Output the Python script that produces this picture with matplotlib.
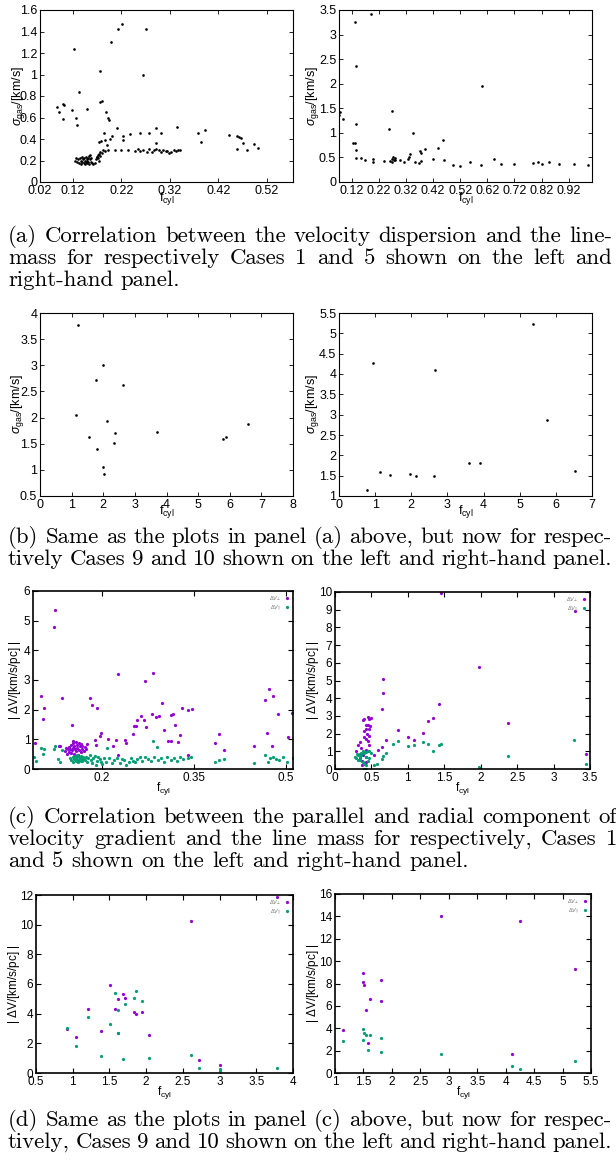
import matplotlib.pyplot as plt
from matplotlib.ticker import FormatStrFormatter

W, H = 616, 1161

# ---- Case 1 / Case 5: velocity dispersion vs line mass ----
c1_f = [0.122, 0.132, 0.087, 0.091, 0.099, 0.100, 0.102, 0.119, 0.127, 0.129,
        0.148, 0.175, 0.175, 0.179, 0.189, 0.193, 0.194, 0.198, 0.213, 0.221,
        0.270, 0.265, 0.185, 0.210, 0.200, 0.196, 0.173, 0.177, 0.187, 0.190,
        0.223, 0.223, 0.237, 0.258, 0.277, 0.291, 0.301, 0.292, 0.334, 0.379,
        0.384, 0.392, 0.441, 0.459, 0.463, 0.467, 0.470, 0.458, 0.479, 0.494,
        0.501,
        0.206, 0.220, 0.234, 0.248, 0.254, 0.265, 0.272, 0.287, 0.292, 0.306,
        0.311, 0.319, 0.323, 0.337, 0.341, 0.259, 0.276, 0.283, 0.297, 0.302,
        0.315, 0.328, 0.333,
        0.170, 0.174, 0.175, 0.182, 0.186, 0.192, 0.176, 0.180,
        0.124, 0.127, 0.129, 0.131, 0.133, 0.134, 0.136, 0.137, 0.138, 0.139,
        0.141, 0.142, 0.143, 0.144, 0.145, 0.146, 0.147, 0.148, 0.149, 0.150,
        0.151, 0.152, 0.153, 0.154, 0.155, 0.156, 0.157, 0.158, 0.160, 0.162,
        0.165, 0.168, 0.170, 0.172, 0.171, 0.173]
c1_sig = [1.24, 0.84, 0.70, 0.65, 0.59, 0.73, 0.72, 0.67, 0.60, 0.53,
          0.68, 1.03, 0.74, 0.75, 0.65, 0.60, 0.58, 1.30, 1.42, 1.47,
          1.42, 1.00, 0.46, 0.50, 0.43, 0.40, 0.37, 0.38, 0.39, 0.34,
          0.43, 0.39, 0.45, 0.46, 0.46, 0.50, 0.46, 0.36, 0.51, 0.46,
          0.37, 0.48, 0.44, 0.43, 0.42, 0.41, 0.36, 0.31, 0.30, 0.35,
          0.32,
          0.30, 0.30, 0.30, 0.29, 0.31, 0.30, 0.28, 0.30, 0.31, 0.30,
          0.29, 0.27, 0.28, 0.30, 0.30, 0.29, 0.31, 0.28, 0.30, 0.28,
          0.29, 0.30, 0.29,
          0.23, 0.26, 0.28, 0.30, 0.29, 0.30, 0.24, 0.27,
          0.20, 0.22, 0.19, 0.21, 0.18, 0.22, 0.20, 0.17, 0.23, 0.19,
          0.21, 0.18, 0.22, 0.20, 0.17, 0.19, 0.23, 0.21, 0.18, 0.20,
          0.22, 0.19, 0.24, 0.17, 0.21, 0.25, 0.19, 0.22, 0.18, 0.17,
          0.18, 0.21, 0.23, 0.25, 0.22, 0.20]

c5_f = [0.077, 0.074, 0.089, 0.132, 0.191, 0.134, 0.136, 0.126, 0.132, 0.134,
        0.136, 0.155, 0.170, 0.200, 0.200, 0.240, 0.258, 0.268, 0.260, 0.270,
        0.273, 0.276, 0.279, 0.281, 0.268, 0.297, 0.313, 0.328, 0.331, 0.346,
        0.336, 0.352, 0.368, 0.374, 0.371, 0.376, 0.390, 0.418, 0.437, 0.455,
        0.461, 0.492, 0.519, 0.556, 0.602, 0.597, 0.643, 0.670, 0.719, 0.787,
        0.806, 0.822, 0.846, 0.883, 0.941, 0.990]
c5_sig = [1.43, 1.36, 1.28, 3.25, 3.41, 2.36, 1.19, 0.80, 0.80, 0.65,
          0.48, 0.48, 0.44, 0.46, 0.41, 0.42, 1.07, 1.44, 0.43, 0.47,
          0.50, 0.44, 0.45, 0.49, 0.41, 0.44, 0.41, 0.46, 0.51, 0.99,
          0.56, 0.41, 0.39, 0.42, 0.63, 0.59, 0.67, 0.46, 0.69, 0.85,
          0.44, 0.35, 0.33, 0.41, 1.95, 0.34, 0.46, 0.36, 0.37, 0.39,
          0.41, 0.37, 0.41, 0.36, 0.37, 0.34]

# ---- Case 9 / Case 10 ----
c9_f = [1.19, 1.15, 1.54, 1.77, 1.81, 2.00, 1.99, 2.03, 2.13, 2.37, 2.35, 2.63,
        3.69, 5.79, 5.89, 6.58]
c9_sig = [3.78, 2.05, 1.62, 2.72, 1.39, 3.00, 1.06, 0.93, 1.94, 1.70, 1.52, 2.63,
          1.72, 1.59, 1.62, 1.88]

c10_f = [0.78, 0.95, 1.14, 1.40, 1.96, 2.14, 2.62, 2.65, 3.61, 3.89, 5.36, 5.76, 6.53]
c10_sig = [1.15, 4.27, 1.59, 1.52, 1.54, 1.50, 1.48, 4.11, 1.82, 1.82, 5.22, 2.87, 1.62]

# ---- velocity gradients, Case 1 ----
c1_perp_f = [0.090, 0.124, 0.121, 0.101, 0.106, 0.104, 0.130, 0.132, 0.134, 0.151,
             0.180, 0.183, 0.192, 0.196, 0.198, 0.190, 0.189, 0.210, 0.218, 0.223,
             0.227, 0.226, 0.237, 0.240, 0.251, 0.253, 0.256, 0.257, 0.264, 0.268,
             0.270, 0.272, 0.283, 0.282, 0.288, 0.293, 0.298, 0.302, 0.308, 0.312,
             0.312, 0.316, 0.320, 0.327, 0.325, 0.331, 0.340, 0.347, 0.340, 0.385,
             0.391, 0.400, 0.449, 0.467, 0.473, 0.480, 0.469, 0.478, 0.488, 0.504,
             0.511,
             0.140, 0.142, 0.144, 0.146, 0.147, 0.148, 0.149, 0.150, 0.151, 0.152,
             0.153, 0.154, 0.155, 0.156, 0.157, 0.158, 0.159, 0.160, 0.161, 0.162,
             0.163, 0.164, 0.165, 0.166, 0.167, 0.168, 0.170, 0.172, 0.174, 0.176,
             0.143, 0.158, 0.152]
c1_perp = [0.87, 5.36, 4.78, 2.45, 2.04, 1.67, 0.78, 0.79, 2.39, 1.49,
           2.39, 2.16, 2.04, 1.11, 1.20, 0.82, 0.99, 1.01, 0.76, 0.99,
           3.20, 0.47, 0.99, 0.87, 1.17, 1.46, 1.46, 1.66, 1.78, 1.66,
           2.97, 1.43, 3.23, 1.86, 1.75, 1.78, 2.23, 1.31, 0.93, 0.96,
           1.83, 1.84, 1.48, 1.13, 0.90, 2.04, 2.00, 2.03, 0.47, 0.87,
           1.17, 0.63, 0.78, 2.33, 2.68, 2.47, 1.20, 0.79, 1.86, 1.08,
           1.90,
           0.62, 0.70, 0.66, 0.58, 0.74, 0.68, 0.55, 0.80, 0.63, 0.72,
           0.86, 0.52, 0.77, 0.66, 0.90, 0.60, 0.82, 0.71, 0.48, 0.87,
           0.64, 0.76, 0.84, 0.57, 0.69, 0.79, 0.62, 0.74, 0.68, 0.83,
           0.50, 0.45, 0.93]

c1_par_f = [0.089, 0.092, 0.101, 0.106, 0.104, 0.121, 0.124, 0.128, 0.131, 0.134,
            0.148, 0.150, 0.152, 0.153, 0.155, 0.156, 0.157, 0.158, 0.159, 0.160,
            0.161, 0.162, 0.163, 0.164, 0.165, 0.166, 0.167, 0.168, 0.169, 0.170,
            0.172, 0.174, 0.176, 0.178, 0.180, 0.182, 0.184, 0.186, 0.188, 0.190,
            0.192, 0.194, 0.196, 0.198, 0.200, 0.203, 0.206, 0.208, 0.212, 0.216,
            0.220, 0.224, 0.229, 0.233, 0.236, 0.240, 0.244, 0.247, 0.250, 0.254,
            0.258, 0.262, 0.266, 0.270, 0.275, 0.280, 0.283, 0.285, 0.290, 0.292,
            0.297, 0.302, 0.307, 0.312, 0.317, 0.322, 0.328, 0.333, 0.340, 0.346,
            0.385, 0.391, 0.400, 0.449, 0.467, 0.471, 0.474, 0.479, 0.484, 0.489,
            0.495, 0.503, 0.512]
c1_par = [0.41, 0.27, 0.72, 0.66, 0.49, 0.66, 0.76, 0.35, 0.23, 0.64,
          0.38, 0.30, 0.42, 0.25, 0.35, 0.45, 0.28, 0.38, 0.32, 0.48,
          0.22, 0.40, 0.30, 0.36, 0.26, 0.44, 0.33, 0.28, 0.40, 0.35,
          0.30, 0.42, 0.25, 0.38, 0.48, 0.30, 0.20, 0.37, 0.43, 0.15,
          0.28, 0.40, 0.35, 0.25, 0.16, 0.38, 0.22, 0.72, 0.37, 0.20,
          0.30, 0.38, 0.21, 0.35, 0.30, 0.12, 0.25, 0.38, 0.28, 0.22,
          0.33, 0.40, 0.28, 0.40, 0.35, 0.28, 0.96, 0.42, 0.73, 0.30,
          0.38, 0.25, 0.42, 0.30, 0.38, 0.28, 0.42, 0.33, 0.38, 0.40,
          0.23, 0.30, 0.35, 0.20, 0.47, 0.22, 0.38, 0.40, 0.35, 0.32,
          0.40, 0.25, 0.38]

# ---- velocity gradients, Case 5 ----
c5_perp_f = [1.45, 3.29, 1.97, 0.66, 0.66, 0.64, 1.43, 1.35, 1.28, 1.21, 0.86, 0.70,
             1.00, 1.08, 2.38, 3.45, 0.59, 0.65, 0.54,
             0.38, 0.40, 0.45, 0.47, 0.50, 0.42, 0.45, 0.48, 0.43, 0.47, 0.40, 0.42,
             0.45, 0.34, 0.31, 0.29, 0.34, 0.38, 0.42, 0.37, 0.40, 0.43, 0.46, 0.47,
             0.36, 0.34, 0.44, 0.40, 0.43, 0.37]
c5_perp = [9.94, 8.90, 5.78, 5.06, 4.32, 3.37, 3.70, 2.87, 2.71, 2.02, 2.19, 1.63,
           1.82, 1.63, 2.58, 0.83, 1.09, 1.22, 0.79,
           2.79, 2.83, 2.93, 2.83, 2.89, 2.50, 2.50, 2.44, 2.25, 2.25, 1.80, 1.67,
           1.57, 1.53, 1.34, 0.99, 0.83, 0.79, 0.70, 0.21, 0.02, 1.09, 1.38, 1.86,
           1.18, 0.60, 1.96, 2.15, 0.41, 0.45]
c5_par_f = [3.28, 2.38, 1.97, 3.45, 1.43, 1.45, 1.35, 1.28, 1.21, 1.08, 1.00, 0.86,
            0.80, 0.70, 0.66, 0.64, 0.58, 0.54,
            0.29, 0.31, 0.34, 0.36, 0.38, 0.40, 0.43, 0.45, 0.47, 0.50, 0.34, 0.38,
            0.40, 0.43, 0.45, 0.42, 0.40, 0.36, 0.31, 0.43, 0.47, 0.27, 0.30]
c5_par = [1.63, 0.72, 0.10, 0.31, 1.38, 1.41, 1.03, 1.41, 1.53, 1.38, 1.28, 1.59,
          1.43, 0.93, 0.76, 0.54, 0.31, 0.25,
          0.60, 0.79, 0.70, 0.79, 0.99, 0.89, 0.95, 1.03, 0.99, 0.89, 0.50, 0.41,
          0.31, 0.21, 0.45, 0.02, 0.00, 0.89, 0.50, 0.70, 0.60, 0.70, 0.83]

# ---- velocity gradients, Case 9 ----
c9_perp_f = [0.92, 1.05, 1.21, 1.39, 1.51, 1.58, 1.61, 1.69, 1.71, 1.61, 1.84, 1.86,
             1.94, 2.04, 2.61, 2.72, 3.00, 3.78]
c9_perp = [2.95, 2.44, 4.34, 2.83, 5.96, 4.34, 4.97, 5.34, 5.08, 2.71, 4.11, 3.99,
           4.11, 2.55, 10.23, 0.90, 0.56, 11.88]
c9_par_f = [0.92, 1.05, 1.21, 1.39, 1.51, 1.58, 1.61, 1.61, 1.69, 1.71, 1.84, 1.86,
            1.94, 2.04, 2.61, 2.72, 3.00, 3.00, 3.78]
c9_par = [3.06, 1.79, 3.76, 1.16, 3.29, 5.38, 4.27, 2.71, 0.97, 4.64, 5.03, 5.50,
          4.85, 1.02, 1.21, 0.32, 0.28, 0.16, 0.32]

# ---- velocity gradients, Case 10 ----
c10_perp_f = [1.14, 1.49, 1.50, 1.51, 1.54, 1.58, 1.62, 1.81, 1.81, 2.87, 4.11, 4.26, 5.22]
c10_perp = [3.86, 8.95, 8.09, 7.87, 5.62, 2.69, 6.57, 8.33, 6.45, 14.07, 1.73, 13.55, 9.26]
c10_par_f = [1.14, 1.49, 1.50, 1.51, 1.54, 1.58, 1.62, 1.81, 1.81, 2.87, 4.11, 4.26, 5.22]
c10_par = [2.90, 2.93, 3.92, 3.55, 3.40, 2.07, 3.40, 3.15, 1.91, 1.73, 0.62, 0.37, 1.05]

captions = {
    'a': ["(a) Correlation between the velocity dispersion and the line-",
          "mass for respectively Cases 1 and 5 shown on the left and",
          "right-hand panel."],
    'b': ["(b) Same as the plots in panel (a) above, but now for respec-",
          "tively Cases 9 and 10 shown on the left and right-hand panel."],
    'c': ["(c) Correlation between the parallel and radial component of",
          "velocity gradient and the line mass for respectively, Cases 1",
          "and 5 shown on the left and right-hand panel."],
    'd': ["(d) Same as the plots in panel (c) above, but now for respec-",
          "tively, Cases 9 and 10 shown on the left and right-hand panel."],
}

PURPLE = '#9400d3'
GREEN = '#009e73'

plt.rcParams['font.family'] = ['Liberation Sans', 'DejaVu Sans']
plt.rcParams['mathtext.fontset'] = 'custom'
plt.rcParams['mathtext.rm'] = 'Liberation Sans'
plt.rcParams['mathtext.it'] = 'Liberation Sans:italic'
plt.rcParams['mathtext.sf'] = 'Liberation Sans'

fig = plt.figure(figsize=(W / 100, H / 100), dpi=100)


def px_axes(x0, y0, x1, y1):
    return fig.add_axes([x0 / W, 1 - y1 / H, (x1 - x0) / W, (y1 - y0) / H])


def matlab_style(ax, xlim, ylim, yticks, xticks, xlabels=None, ylab_x=-0.05, xlab_y=-0.045):
    ax.set_xlim(*xlim)
    ax.set_ylim(*ylim)
    ax.set_yticks(yticks)
    ax.set_xticks(xticks)
    if xlabels is not None:
        ax.set_xticklabels(xlabels)
    else:
        ax.xaxis.set_major_formatter(FormatStrFormatter('%g'))
    ax.yaxis.set_major_formatter(FormatStrFormatter('%g'))
    ax.tick_params(direction='in', top=True, right=True, length=3, width=0.6,
                   labelsize=9, pad=2)
    for s in ax.spines.values():
        s.set_linewidth(0.8)
    ax.set_ylabel(r'$\sigma_{\rm gas}$/[km/s]', fontsize=9)
    ax.set_xlabel(r'f$_{\rm cyl}$', fontsize=9)
    ax.yaxis.set_label_coords(ylab_x, 0.5)
    ax.xaxis.set_label_coords(0.5, xlab_y)


def gnuplot_style(ax, xlim, ylim, yticks, xticks, ylab_x=-0.05, xlab_y=-0.06):
    ax.set_xlim(*xlim)
    ax.set_ylim(*ylim)
    ax.set_yticks(yticks)
    ax.set_xticks(xticks)
    ax.xaxis.set_major_formatter(FormatStrFormatter('%g'))
    ax.yaxis.set_major_formatter(FormatStrFormatter('%g'))
    ax.tick_params(direction='in', top=True, right=True, length=3.5, width=0.8,
                   labelsize=8.5, pad=2)
    for s in ax.spines.values():
        s.set_linewidth(1.2)
    ax.set_ylabel(r'| $\Delta$V/[km/s/pc] |', fontsize=8.5)
    ax.set_xlabel(r'f$_{\rm cyl}$', fontsize=8.5)
    ax.yaxis.set_label_coords(ylab_x, 0.5)
    ax.xaxis.set_label_coords(0.5, xlab_y)


def black_dots(ax, x, y):
    ax.plot(x, y, 'o', color='black', ms=1.9, mew=0)


def gradient_dots(ax, xp, yp, xg, yg):
    ax.plot(xp, yp, 'o', color=PURPLE, ms=2.3, mew=0, label=r'$\Delta V_\perp$')
    ax.plot(xg, yg, 'o', color=GREEN, ms=2.3, mew=0, label=r'$\Delta V_\parallel$')
    leg = ax.legend(loc='upper right', fontsize=4, frameon=False, markerfirst=False,
                    handlelength=1.0, handletextpad=0.6, labelspacing=0.15,
                    borderaxespad=0.3, borderpad=0.2)
    for t in leg.get_texts():
        t.set_color('#777777')


# panel (a)
ax = px_axes(40, 10, 293, 182)
black_dots(ax, c1_f, c1_sig)
matlab_style(ax, (0.052, 0.574), (0, 1.6), [0, 0.2, 0.4, 0.6, 0.8, 1.0, 1.2, 1.4, 1.6],
             [0.052, 0.12, 0.22, 0.32, 0.42, 0.52],
             ['0.02', '0.12', '0.22', '0.32', '0.42', '0.52'], ylab_x=-0.051)

ax = px_axes(339, 10, 592, 182)
black_dots(ax, c5_f, c5_sig)
matlab_style(ax, (0.073, 1.006), (0, 3.5), [0, 0.5, 1, 1.5, 2, 2.5, 3, 3.5],
             [0.12, 0.22, 0.32, 0.42, 0.52, 0.62, 0.72, 0.82, 0.92], ylab_x=-0.071)

# panel (b)
ax = px_axes(40, 313, 293, 496)
black_dots(ax, c9_f, c9_sig)
matlab_style(ax, (0, 8), (0.5, 4), [0.5, 1, 1.5, 2, 2.5, 3, 3.5, 4], range(0, 9),
             ylab_x=-0.055, xlab_y=-0.04)

ax = px_axes(339, 313, 592, 496)
black_dots(ax, c10_f, c10_sig)
matlab_style(ax, (0, 7), (1, 5.5), [1, 1.5, 2, 2.5, 3, 3.5, 4, 4.5, 5, 5.5], range(0, 8),
             ylab_x=-0.071, xlab_y=-0.04)

# panel (c)
ax = px_axes(33, 591, 293, 769)
gradient_dots(ax, c1_perp_f, c1_perp, c1_par_f, c1_par)
gnuplot_style(ax, (0.0874, 0.512), (0, 6), range(0, 7), [0.2, 0.35, 0.5], ylab_x=-0.038)

ax = px_axes(335, 592, 590, 769)
gradient_dots(ax, c5_perp_f, c5_perp, c5_par_f, c5_par)
gnuplot_style(ax, (0, 3.5), (0, 10), range(0, 11),
              [0, 0.5, 1, 1.5, 2, 2.5, 3, 3.5], ylab_x=-0.055)

# panel (d)
ax = px_axes(36, 895, 293, 1073)
gradient_dots(ax, c9_perp_f, c9_perp, c9_par_f, c9_par)
gnuplot_style(ax, (0.5, 4), (0, 12), range(0, 13, 2),
              [0.5, 1, 1.5, 2, 2.5, 3, 3.5, 4], ylab_x=-0.054)

ax = px_axes(335, 894, 591, 1073)
gradient_dots(ax, c10_perp_f, c10_perp, c10_par_f, c10_par)
gnuplot_style(ax, (1, 5.5), (0, 16), range(0, 17, 2),
              [1, 1.5, 2, 2.5, 3, 3.5, 4, 4.5, 5, 5.5], ylab_x=-0.055)


# justified serif captions below each pair of panels
renderer = fig.canvas.get_renderer()
LEFT, RIGHT = 8, 612
SPACE_EM = 0.333


def word_widths(words, size):
    txts = [fig.text(0, 0, w, fontfamily='cmr10', fontsize=size) for w in words]
    widths = [t.get_window_extent(renderer).width for t in txts]
    for t in txts:
        t.remove()
    return widths


# pick the type size at which the first caption line fills the column
first = captions['a'][0].split(' ')
w10 = sum(word_widths(first, 10))
px_per_pt = 100 / 72
CAP_SIZE = (RIGHT - LEFT) / (w10 / 10 + (len(first) - 1) * SPACE_EM * px_per_pt)


def caption(lines, first_baseline, x1=RIGHT, x0=LEFT, step=22, ragged_last=False):
    for i, line in enumerate(lines):
        y = 1 - (first_baseline + i * step) / H
        words = line.split(' ')
        txts = [fig.text(0, y, w, fontfamily='cmr10', fontsize=CAP_SIZE, va='baseline')
                for w in words]
        widths = [t.get_window_extent(renderer).width for t in txts]
        if ragged_last and i == len(lines) - 1:
            gap = CAP_SIZE * px_per_pt * SPACE_EM
        else:
            gap = (x1 - x0 - sum(widths)) / (len(words) - 1)
        x = x0
        for t, w in zip(txts, widths):
            t.set_x(x / W)
            x += w + gap


caption(captions['a'], 242, ragged_last=True)
caption(captions['b'], 543)
caption(captions['c'], 823, x1=617, ragged_last=True)
caption(captions['d'], 1126)

fig.savefig('out.png', dpi=100)
